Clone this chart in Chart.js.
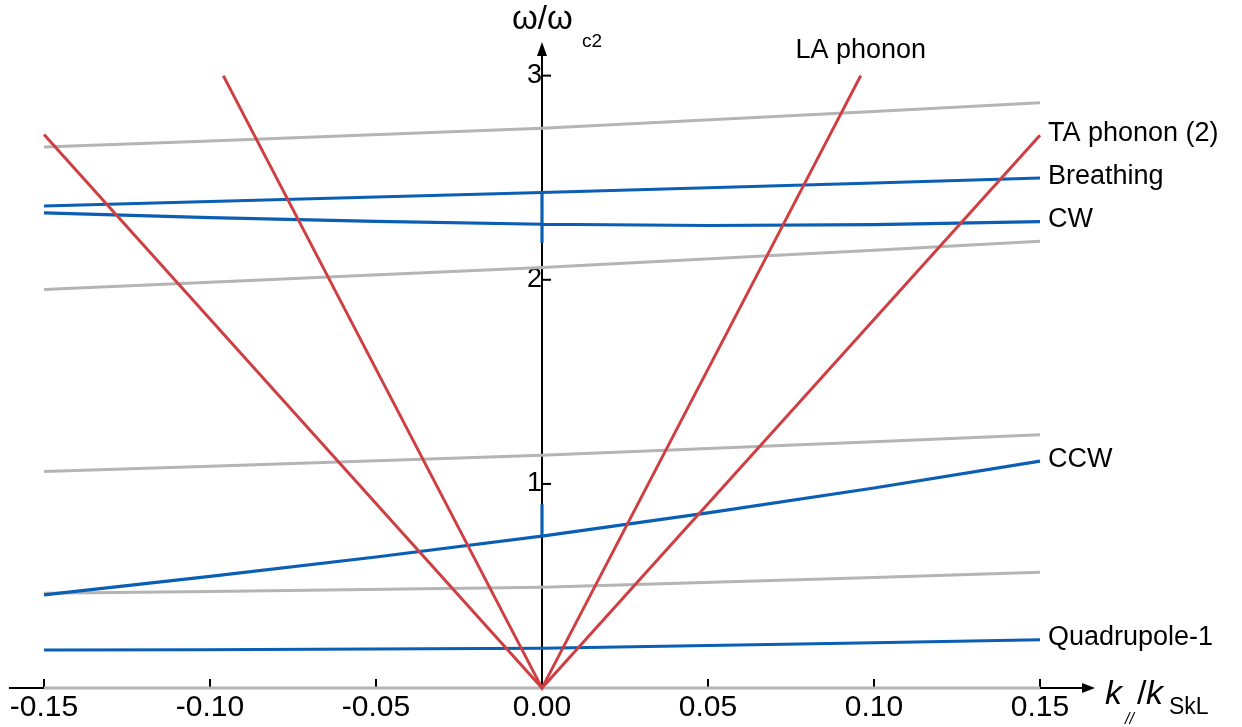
<!DOCTYPE html>
<html><head><meta charset="utf-8">
<script src="https://cdn.jsdelivr.net/npm/chart.js@4/dist/chart.umd.min.js"></script>
<style>html,body{margin:0;padding:0;background:#fff;}canvas{display:block;}</style>
</head><body>
<canvas id="c" width="1242" height="727"></canvas>
<script>
// ---- data (k_// / k_SkL  vs  ω/ω_c2) ----
const kEnds = [-0.15, 0, 0.15];
const grayZero = [0, 0, 0];
const gray1 = [0.465, 0.494, 0.568];
const gray2 = [1.061, 1.140, 1.241];
const gray3 = [1.953, 2.060, 2.189];
const gray4 = [2.650, 2.742, 2.867];

const kFine = [-0.15, -0.10, -0.05, 0, 0.05, 0.10, 0.15];
const ccwW = [0.457, 0.547, 0.642, 0.744, 0.858, 0.980, 1.112];
const ccwSpikeW = [0.744, 0.900, 0.744];          // values at k = 0
const cwW = [2.328, 2.304, 2.286, 2.272, 2.266, 2.270, 2.285];
const cwSpikeW = [2.272, 2.428, 2.180, 2.272];    // values at k = 0
const breathingW = [2.361, 2.428, 2.498];
const quadW = [0.187, 0.195, 0.237];

const taK = [-0.15, 0, 0.15];
const taW = [2.712, 0, 2.708];
const laK = [-0.096, 0, 0.096];
const laW = [3.0, 0, 3.0];

const xTickValues = [-0.15, -0.10, -0.05, 0, 0.05, 0.10, 0.15];
const xTickLabels = ['-0.15', '-0.10', '-0.05', '0.00', '0.05', '0.10', '0.15'];
const yTickValues = [1, 2, 3];
const yTickLabels = ['1', '2', '3'];

const seriesLabels = {ta: 'TA phonon (2)', la: 'LA phonon', breathing: 'Breathing', cw: 'CW', ccw: 'CCW', quad: 'Quadrupole-1'};

// ---- build ----
const pts = (ks, ws) => ks.map((k, i) => ({x: k, y: ws[i]}));
function withSpike(ks, ws, spike) {
  const out = [];
  ks.forEach((k, i) => {
    if (k === 0) spike.forEach(v => out.push({x: 0, y: v}));
    else out.push({x: k, y: ws[i]});
  });
  return out;
}
const GRAY = '#b4b4b4', BLUE = '#0a5eb4', RED = '#cf3f42';
const FONT = '"Liberation Sans", Arial, sans-serif';
function line(data, color, order, extra) {
  return Object.assign({data, borderColor: color, backgroundColor: color, borderWidth: 3,
    pointRadius: 0, showLine: true, fill: false, clip: false, order}, extra || {});
}
const smooth = {cubicInterpolationMode: 'monotone'};
const datasets = [
  line(pts(kEnds, grayZero), GRAY, 3),
  line(pts(kEnds, gray1), GRAY, 3, smooth),
  line(pts(kEnds, gray2), GRAY, 3, smooth),
  line(pts(kEnds, gray3), GRAY, 3, smooth),
  line(pts(kEnds, gray4), GRAY, 3, smooth),
  line(pts(kEnds, quadW), BLUE, 2, smooth),
  line(withSpike(kFine, ccwW, ccwSpikeW), BLUE, 2, {borderWidth: 3.2}),
  line(withSpike(kFine, cwW, cwSpikeW), BLUE, 2, {borderWidth: 3.2}),
  line(pts(kEnds, breathingW), BLUE, 2, smooth),
  line(pts(taK, taW), RED, 1),
  line(pts(laK, laW), RED, 1),
];

const axesPlugin = {
  id: 'axesPlugin',
  beforeDatasetsDraw(chart) {
    const {ctx, scales: {x, y}} = chart;
    const x0 = x.getPixelForValue(0), y0 = y.getPixelForValue(0);
    ctx.save();
    ctx.strokeStyle = '#000'; ctx.fillStyle = '#000'; ctx.lineWidth = 2;
    // x axis
    ctx.beginPath(); ctx.moveTo(9, y0); ctx.lineTo(1084, y0); ctx.stroke();
    ctx.beginPath(); ctx.moveTo(1095, y0); ctx.lineTo(1082, y0 - 5); ctx.lineTo(1082, y0 + 5); ctx.closePath(); ctx.fill();
    // y axis
    ctx.beginPath(); ctx.moveTo(x0, y0 + 1); ctx.lineTo(x0, 54); ctx.stroke();
    ctx.beginPath(); ctx.moveTo(x0, 42); ctx.lineTo(x0 - 5, 56); ctx.lineTo(x0 + 5, 56); ctx.closePath(); ctx.fill();
    // ticks
    x.ticks.forEach(t => { const px = x.getPixelForValue(t.value);
      ctx.beginPath(); ctx.moveTo(px, y0); ctx.lineTo(px, y0 - 9); ctx.stroke(); });
    y.ticks.forEach(t => { const py = y.getPixelForValue(t.value);
      ctx.beginPath(); ctx.moveTo(x0, py); ctx.lineTo(x0 + 9, py); ctx.stroke(); });
    ctx.restore();
  },
  afterDraw(chart) {
    const {ctx, scales: {x, y}} = chart;
    const xr = x.getPixelForValue(0.15);
    ctx.save();
    ctx.fillStyle = '#000';
    ctx.textBaseline = 'middle'; ctx.textAlign = 'left';
    ctx.font = '27px ' + FONT;
    const lab = (txt, w) => ctx.fillText(txt, xr + 8, y.getPixelForValue(w) - 2);
    lab(seriesLabels.ta, taW[taW.length - 1]);
    lab(seriesLabels.breathing, breathingW[breathingW.length - 1]);
    lab(seriesLabels.cw, cwW[cwW.length - 1]);
    lab(seriesLabels.ccw, ccwW[ccwW.length - 1]);
    lab(seriesLabels.quad, quadW[quadW.length - 1]);
    ctx.textAlign = 'center';
    ctx.fillText(seriesLabels.la, x.getPixelForValue(laK[2]), y.getPixelForValue(laW[2]) - 25);
    // y title
    ctx.textAlign = 'left'; ctx.textBaseline = 'alphabetic';
    ctx.font = '33px ' + FONT; ctx.fillText('ω/ω', 512, 29);
    ctx.font = '19px ' + FONT; ctx.fillText('c2', 582, 47);
    // x title
    ctx.font = 'italic 34px ' + FONT; ctx.fillText('k', 1105, 704);
    ctx.font = 'italic 16px ' + FONT; ctx.fillText('//', 1125, 724);
    ctx.font = '34px ' + FONT; ctx.fillText('/', 1137, 704);
    ctx.font = 'italic 34px ' + FONT; ctx.fillText('k', 1146, 704);
    ctx.font = '23px ' + FONT; ctx.fillText('SkL', 1169, 714);
    ctx.restore();
  }
};

new Chart(document.getElementById('c'), {
  type: 'scatter',
  data: {datasets},
  options: {
    responsive: false, animation: false, devicePixelRatio: 1,
    layout: {padding: {left: 44, right: 202, top: 45, bottom: 0}},
    plugins: {legend: {display: false}, tooltip: {enabled: false}},
    scales: {
      x: {
        type: 'linear', position: 'bottom', min: -0.15, max: 0.15,
        afterBuildTicks: s => { s.ticks = xTickValues.map(v => ({value: v})); },
        ticks: {color: '#000', font: {size: 30, family: FONT, lineHeight: 1.03}, padding: 4, maxRotation: 0,
          callback: (v) => { const i = xTickValues.findIndex(t => Math.abs(t - v) < 1e-9); return i >= 0 ? xTickLabels[i] : ''; }},
        grid: {display: false, drawTicks: false}, border: {display: false}
      },
      y: {
        type: 'linear', position: {x: 0}, min: 0, max: 3.15,
        afterBuildTicks: s => { s.ticks = yTickValues.map(v => ({value: v})); },
        ticks: {color: '#000', font: {size: 27, family: FONT}, padding: 3,
          callback: (v) => { const i = yTickValues.indexOf(v); return i >= 0 ? yTickLabels[i] : ''; }},
        grid: {display: false, drawTicks: false}, border: {display: false}
      }
    }
  },
  plugins: [axesPlugin]
});
</script>
</body></html>
